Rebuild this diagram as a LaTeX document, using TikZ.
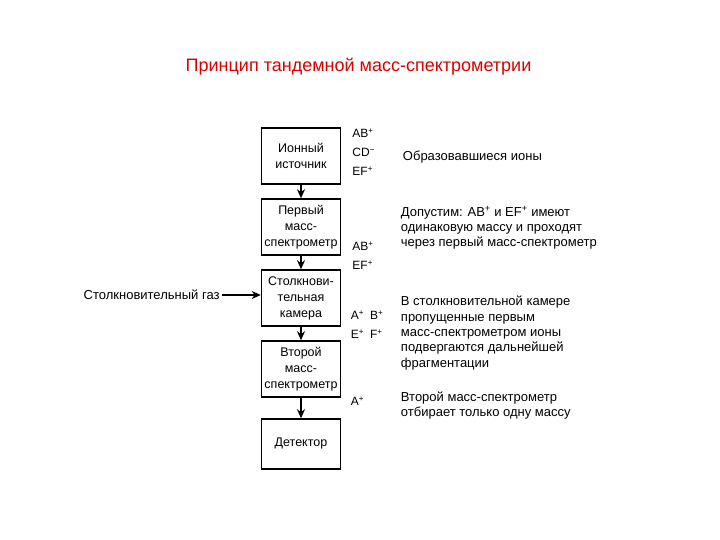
\documentclass[tikz,border=0pt]{standalone}
\usepackage{fontspec}
\setmainfont{Liberation Sans}
\usetikzlibrary{positioning, arrows.meta}

\begin{document}
\begin{tikzpicture}
    [
        x=1pt, y=1pt,
        on grid,
        node distance=71pt and 50pt,
        block/.style={draw, rectangle, minimum height=56pt, minimum width=79pt, line width=1.5pt, align=center, inner sep=1pt, font=\fontsize{12.5}{16}\selectfont},
        ions/.style={align=left, inner sep=0pt, font=\fontsize{12}{19}\selectfont},
        note/.style={align=left, inner sep=0pt, font=\fontsize{13}{15.4}\selectfont},
        flow/.style={-{Stealth[length=9pt, width=8pt]}, line width=1.5pt}
    ]
        \useasboundingbox (0,0) rectangle (720,540);
        % =========================================================================
        % NODES
        % =========================================================================
        % --- Title ---
        \node [text=red!85!black, font=\fontsize{18}{22}\selectfont] (title) at (358.5,473) {Принцип тандемной масс-спектрометрии};
        % --- Blocks ---
        \node [block] (source) at (301,384) {Ионный\\источник};
        \node [block, below=of source] (ms1) {Первый\\масс-\\спектрометр};
        \node [block, below=of ms1] (cell) {Столкнови-\\тельная\\камера};
        \node [block, below=of cell] (ms2) {Второй\\масс-\\спектрометр};
        \node [block, minimum height=50pt, below=75pt of ms2] (det) {Детектор};
        % --- Ions ---
        \node [ions, right=11pt of source.east, anchor=west, yshift=4pt] (ions1) {AB\textsuperscript{+}\\CD\textsuperscript{−}\\EF\textsuperscript{+}};
        \node [ions, right=11pt of ms1.east, anchor=west, yshift=-28.5pt] (ions2) {AB\textsuperscript{+}\\EF\textsuperscript{+}};
        \node [ions, right=9.5pt of cell.east, anchor=west, yshift=-26.5pt] (ions3) {A\textsuperscript{+}\enspace B\textsuperscript{+}\\E\textsuperscript{+}\enspace F\textsuperscript{+}};
        \node [ions, right=9.5pt of ms2.east, anchor=west, yshift=-32.5pt] (ions4) {A\textsuperscript{+}};
        % --- Notes ---
        \node [note, right=61.5pt of source.east, anchor=west, yshift=-1pt] (note1) {Образовавшиеся ионы};
        \node [note, right=59.5pt of ms1.east, anchor=west, yshift=-1pt] (note2) {Допустим: AB\textsuperscript{+} и EF\textsuperscript{+} имеют\\одинаковую массу и проходят\\через первый масс-спектрометр};
        \node [note, right=59.5pt of cell.east, anchor=west, yshift=-35pt] (note3) {В столкновительной камере\\пропущенные первым\\масс-спектрометром ионы\\подвергаются дальнейшей\\фрагментации};
        \node [note, right=59.5pt of ms2.east, anchor=west, yshift=-36.5pt] (note4) {Второй масс-спектрометр\\отбирает только одну массу};
        % --- Gas ---
        \node [note, left=41pt of cell.west, anchor=east, yshift=3pt] (gas) {Столкновительный газ};

        % =========================================================================
        % PATHS
        % =========================================================================
        \draw [flow] (source) -- (ms1);
        \draw [flow] (ms1) -- (cell);
        \draw [flow] (cell) -- (ms2);
        \draw [flow] (ms2) -- (det);
        \draw [flow] ([xshift=2pt]gas.east) -- (gas.east -| cell.west);
    \end{tikzpicture}
\end{document}
